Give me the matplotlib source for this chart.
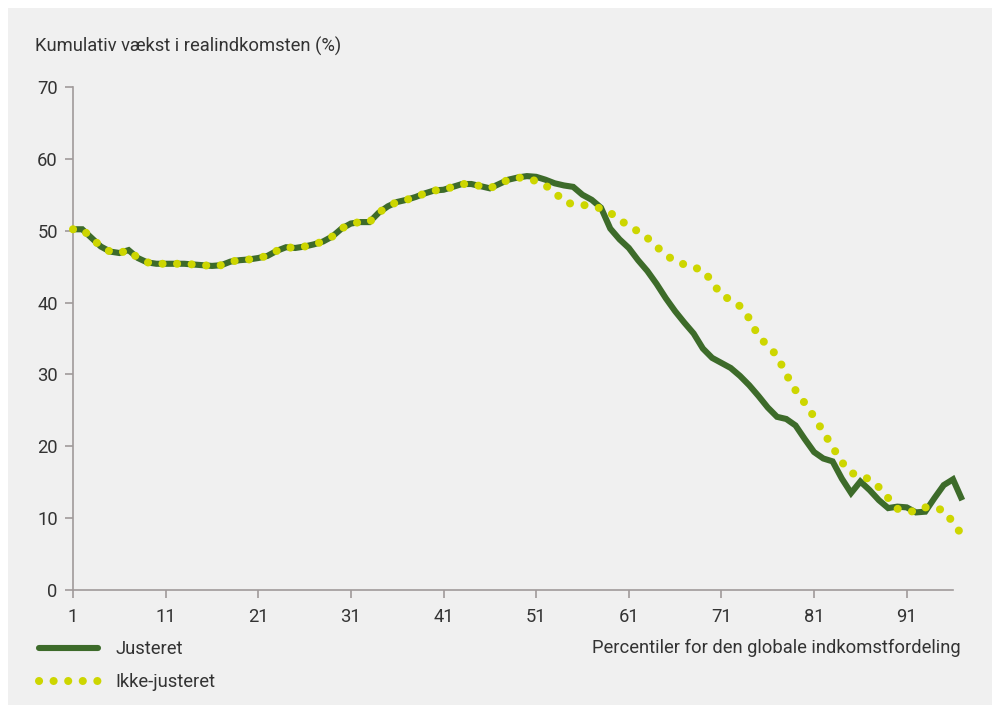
import matplotlib
matplotlib.use("Agg")
import matplotlib.pyplot as plt
from matplotlib.patches import Rectangle
from matplotlib.lines import Line2D

plt.rcParams['font.family'] = ['Roboto', 'DejaVu Sans']

percentiles = list(range(1, 98))
justeret = [
    50.2, 50.2, 49.0, 47.8, 47.1, 46.9, 47.3, 46.2, 45.6, 45.4,
    45.4, 45.4, 45.4, 45.3, 45.2, 45.1, 45.2, 45.7, 45.9, 46.0,
    46.2, 46.5, 47.2, 47.7, 47.6, 47.8, 48.1, 48.5, 49.2, 50.3,
    51.0, 51.2, 51.2, 52.5, 53.4, 54.0, 54.3, 54.7, 55.2, 55.6,
    55.7, 56.1, 56.5, 56.5, 56.2, 55.9, 56.5, 57.1, 57.4, 57.6,
    57.5, 57.1, 56.6, 56.3, 56.1, 55.0, 54.3, 53.2, 50.3, 48.8,
    47.6, 45.9, 44.4, 42.6, 40.6, 38.8, 37.2, 35.7, 33.6, 32.3,
    31.6, 30.9, 29.8, 28.5, 27.0, 25.4, 24.1, 23.8, 22.9, 21.0,
    19.2, 18.3, 17.9, 15.5, 13.5, 15.1, 13.9, 12.5, 11.4, 11.6,
    11.5, 10.8, 10.9, 12.8, 14.6, 15.4, 12.5,
]
ikke_justeret = [
    50.2, 50.2, 49.0, 47.8, 47.1, 46.9, 47.3, 46.2, 45.6, 45.4,
    45.4, 45.4, 45.4, 45.3, 45.2, 45.1, 45.2, 45.7, 45.9, 46.0,
    46.2, 46.5, 47.2, 47.7, 47.6, 47.8, 48.1, 48.5, 49.2, 50.3,
    51.0, 51.2, 51.2, 52.5, 53.4, 54.0, 54.3, 54.7, 55.2, 55.6,
    55.7, 56.1, 56.5, 56.5, 56.2, 55.9, 56.5, 57.1, 57.4, 57.3,
    56.9, 56.3, 55.4, 54.0, 53.7, 53.6, 53.4, 53.1, 52.5, 51.5,
    50.7, 49.9, 49.0, 47.8, 46.6, 45.8, 45.3, 44.9, 44.5, 42.9,
    41.0, 40.4, 39.5, 37.8, 35.3, 34.0, 32.6, 30.0, 27.8, 26.0,
    24.1, 22.0, 19.9, 17.8, 16.3, 15.9, 15.4, 14.3, 12.8, 11.3,
    11.0, 10.9, 11.5, 11.4, 11.1, 9.4, 7.6,
]
x_ticks = [1, 11, 21, 31, 41, 51, 61, 71, 81, 91]
y_ticks = [0, 10, 20, 30, 40, 50, 60, 70]

GREEN = '#3d6b2a'
YELLOW = '#cdd600'
BG = '#f0f0f0'
TXT = '#333333'
AXC = '#a09a9a'
FS = 13.2

W, H = 995, 708
fig = plt.figure(figsize=(W / 100, H / 100), dpi=100)
fig.patch.set_facecolor('white')
fig.add_artist(Rectangle((8 / W, 3 / H), (W - 11) / W, (H - 11) / H,
                         transform=fig.transFigure, facecolor=BG,
                         edgecolor='none', zorder=-10))

ax = fig.add_axes([73 / W, (H - 590) / H, (953 - 73) / W, (590 - 87) / H])
ax.set_facecolor('none')

lw = 4.4
lw_dot = 5.8
DOTS = (0, (0.01, 1.8))
ax.plot(percentiles, justeret, color=GREEN, lw=lw, solid_capstyle='butt',
        solid_joinstyle='miter', clip_on=False, zorder=3)
ax.plot(percentiles, ikke_justeret, color=YELLOW, lw=lw_dot, linestyle=DOTS,
        dash_capstyle='round', clip_on=False, zorder=4)

ax.set_xlim(1, 96)
ax.set_ylim(0, 70)
ax.set_xticks(x_ticks)
ax.set_yticks(y_ticks)
for s in ['top', 'right']:
    ax.spines[s].set_visible(False)
for s in ['left', 'bottom']:
    ax.spines[s].set_color(AXC)
    ax.spines[s].set_linewidth(1.2)
ax.tick_params(axis='both', colors=AXC, length=6, width=1.2,
               labelcolor=TXT, labelsize=FS)
ax.tick_params(axis='y', pad=5)
ax.tick_params(axis='x', pad=7)

fig.text(35 / W, 1 - 46 / H, 'Kumulativ vækst i realindkomsten (%)',
         ha='left', va='center', fontsize=FS, color=TXT)
fig.text(961 / W, 1 - 648 / H, 'Percentiler for den globale indkomstfordeling',
         ha='right', va='center', fontsize=FS, color=TXT)

handles = [
    Line2D([], [], color=GREEN, lw=lw, solid_capstyle='round'),
    Line2D([], [], color=YELLOW, lw=lw_dot, linestyle=DOTS, dash_capstyle='round'),
]
leg = fig.legend(handles, ['Justeret', 'Ikke-justeret'], loc='upper left',
                 bbox_to_anchor=(22 / W, 1 - 624 / H), frameon=False,
                 handlelength=3.25, handletextpad=0.95, labelspacing=0.8,
                 prop={'size': FS})
for t in leg.get_texts():
    t.set_color(TXT)

fig.savefig('out.png', dpi=100, facecolor='white')
